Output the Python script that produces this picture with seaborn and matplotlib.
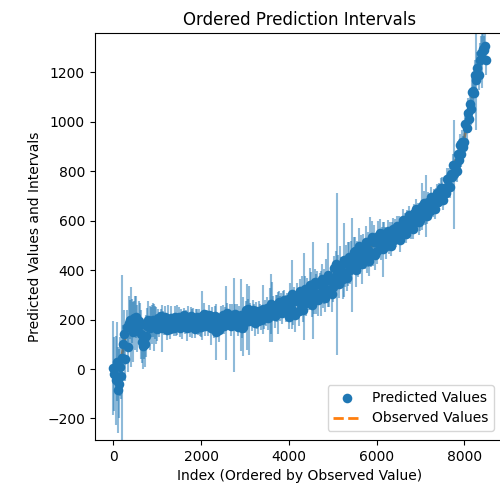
import numpy as np
import pandas as pd
import matplotlib
matplotlib.use("Agg")
import matplotlib.pyplot as plt
import seaborn as sns

# Sample index (ordered by observed value), one sample every 25 positions
index = np.arange(0, 8501, 25)

# Predicted value at each sampled index, one row per 500 positions
predicted = [
    4, -20, -45, 30, -85, -60, 10, -30, 45, 100, 140, 40, 170, 90, 185, 200, 170, 195, 150, 205,
    185, 210, 165, 195, 178, 140, 110, 95, 120, 100, 135, 175, 200, 165, 190, 180, 198, 168, 188, 176,
    160, 207, 180, 213, 165, 193, 173, 210, 187, 157, 203, 177, 163, 205, 190, 167, 211, 175, 199, 183,
    210, 166, 196, 175, 217, 182, 202, 164, 208, 190, 170, 214, 184, 205, 162, 199, 212, 176, 193, 168,
    169, 216, 189, 222, 174, 202, 182, 219, 196, 166, 212, 186, 160, 214, 150, 176, 158, 184, 208, 192,
    220, 176, 206, 185, 227, 192, 212, 174, 218, 200, 180, 224, 194, 215, 172, 209, 218, 165, 172, 188,
    190, 237, 210, 243, 195, 223, 203, 240, 217, 187, 233, 207, 193, 235, 220, 197, 241, 205, 229, 213,
    248, 206, 238, 219, 263, 230, 252, 216, 260, 244, 226, 272, 244, 267, 226, 265, 280, 246, 262, 240,
    210, 287, 245, 302, 229, 277, 219, 297, 274, 236, 314, 261, 303, 239, 293, 323, 266, 310, 287, 339,
    338, 260, 317, 282, 353, 304, 342, 279, 339, 306, 364, 296, 333, 287, 365, 317, 380, 312, 357, 305,
    330, 408, 366, 424, 385, 401, 344, 422, 400, 363, 442, 390, 433, 369, 424, 455, 399, 444, 422, 474,
    478, 401, 458, 424, 497, 448, 487, 424, 485, 453, 512, 445, 483, 437, 516, 469, 533, 466, 512, 460,
    476, 538, 504, 550, 492, 530, 484, 546, 528, 498, 559, 517, 551, 499, 543, 567, 521, 557, 539, 580,
    580, 520, 568, 542, 601, 564, 596, 548, 598, 574, 621, 569, 601, 566, 631, 595, 647, 595, 633, 593,
    602, 659, 630, 673, 624, 658, 620, 677, 663, 638, 695, 660, 692, 648, 688, 712, 674, 706, 692, 731,
    732, 682, 728, 710, 767, 740, 774, 737, 788, 775, 824, 787, 824, 802, 869, 847, 905, 871, 917, 897,
    920, 990, 975, 1035, 1010, 1070, 1050, 1120, 1125, 1115, 1188, 1168, 1218, 1190, 1248, 1280, 1255, 1295, 1290, 1305,
    1250,
]

# Half-width of the prediction interval at each sampled index
half_width = [
    190, 150, 180, 160, 175, 140, 120, 90, 335, 80, 100, 90, 70, 100, 110, 80, 160, 90, 120, 70,
    110, 85, 95, 80, 90, 100, 85, 95, 80, 90, 85, 70, 75, 90, 60, 80, 70, 95, 65, 75,
    45, 35, 50, 30, 95, 40, 35, 45, 30, 40, 55, 35, 40, 50, 30, 35, 45, 40, 60, 35,
    40, 35, 45, 55, 30, 40, 35, 50, 45, 30, 40, 35, 60, 40, 35, 45, 30, 40, 50, 35,
    40, 100, 35, 45, 40, 35, 50, 40, 35, 70, 40, 45, 35, 40, 115, 35, 50, 40, 45, 35,
    40, 35, 45, 150, 40, 35, 50, 40, 45, 35, 190, 40, 35, 50, 40, 45, 145, 40, 120, 35,
    45, 40, 135, 40, 140, 45, 50, 40, 45, 55, 40, 45, 50, 40, 45, 40, 100, 45, 50, 40,
    45, 50, 40, 110, 120, 120, 45, 50, 40, 55, 85, 45, 50, 40, 45, 50, 40, 55, 45, 40,
    50, 60, 45, 140, 50, 55, 70, 50, 45, 60, 50, 45, 75, 50, 175, 55, 50, 60, 50, 70,
    55, 50, 195, 60, 50, 80, 55, 65, 50, 90, 60, 50, 70, 55, 80, 50, 130, 60, 55, 75,
    60, 50, 70, 55, 327, 60, 55, 75, 55, 80, 150, 60, 70, 55, 90, 60, 55, 75, 190, 60,
    55, 70, 60, 50, 75, 65, 55, 80, 60, 50, 65, 55, 70, 60, 100, 55, 65, 50, 70, 60,
    50, 60, 45, 55, 50, 45, 110, 50, 45, 55, 45, 50, 45, 40, 50, 45, 40, 50, 45, 40,
    40, 45, 40, 35, 45, 40, 35, 40, 45, 35, 40, 45, 35, 40, 35, 45, 40, 35, 40, 50,
    45, 95, 40, 45, 40, 125, 35, 40, 45, 35, 40, 45, 35, 40, 45, 35, 40, 45, 35, 40,
    45, 40, 50, 40, 45, 50, 40, 45, 50, 40, 45, 220, 50, 45, 55, 50, 45, 55, 50, 45,
    50, 55, 50, 60, 55, 50, 65, 60, 55, 70, 60, 200, 65, 60, 70, 65, 120, 60, 55, 50,
    60,
]

# Observed values (ordered), drawn underneath the predictions
obs_index = [0, 100, 200, 300, 400, 500, 1000, 2000, 3000, 4000, 5000, 6000, 7000, 7500, 8000, 8250, 8450, 8500]
observed = [0, 10, 60, 160, 180, 185, 185, 190, 212, 255, 385, 510, 640, 705, 935, 1165, 1290, 1295]

df = pd.DataFrame({"index": index, "predicted": predicted, "half_width": half_width})
df_obs = pd.DataFrame({"index": obs_index, "observed": observed})

blue = "#1f77b4"
orange = "#ff7f0e"

fig = plt.figure(figsize=(5, 4.9), dpi=100)
ax = fig.add_axes([94.7 / 500, 50 / 490, 410.2 / 500, 407 / 490])

sns.lineplot(data=df_obs, x="index", y="observed", ax=ax, color=orange,
             linestyle="--", linewidth=2, label="Observed Values", zorder=1)

ax.errorbar(df["index"], df["predicted"], yerr=df["half_width"], fmt="none",
            ecolor=blue, alpha=0.5, elinewidth=1.5, zorder=2)

sns.scatterplot(data=df, x="index", y="predicted", ax=ax, color=blue, s=48,
                linewidth=0, label="Predicted Values", zorder=3)

ax.set_xlim(-425, 8925)
ax.set_ylim(-287, 1359)
ax.set_title("Ordered Prediction Intervals", fontsize=12)
ax.set_xlabel("Index (Ordered by Observed Value)", fontsize=10)
ax.set_ylabel("Predicted Values and Intervals", fontsize=10)

handles, labels = ax.get_legend_handles_labels()
order = [labels.index("Predicted Values"), labels.index("Observed Values")]
ax.legend([handles[i] for i in order], [labels[i] for i in order],
          loc="lower right", bbox_to_anchor=(494 / 500, (490 - 431) / 490),
          bbox_transform=fig.transFigure, borderaxespad=0, fontsize=10)

fig.savefig("out.png", dpi=100)
